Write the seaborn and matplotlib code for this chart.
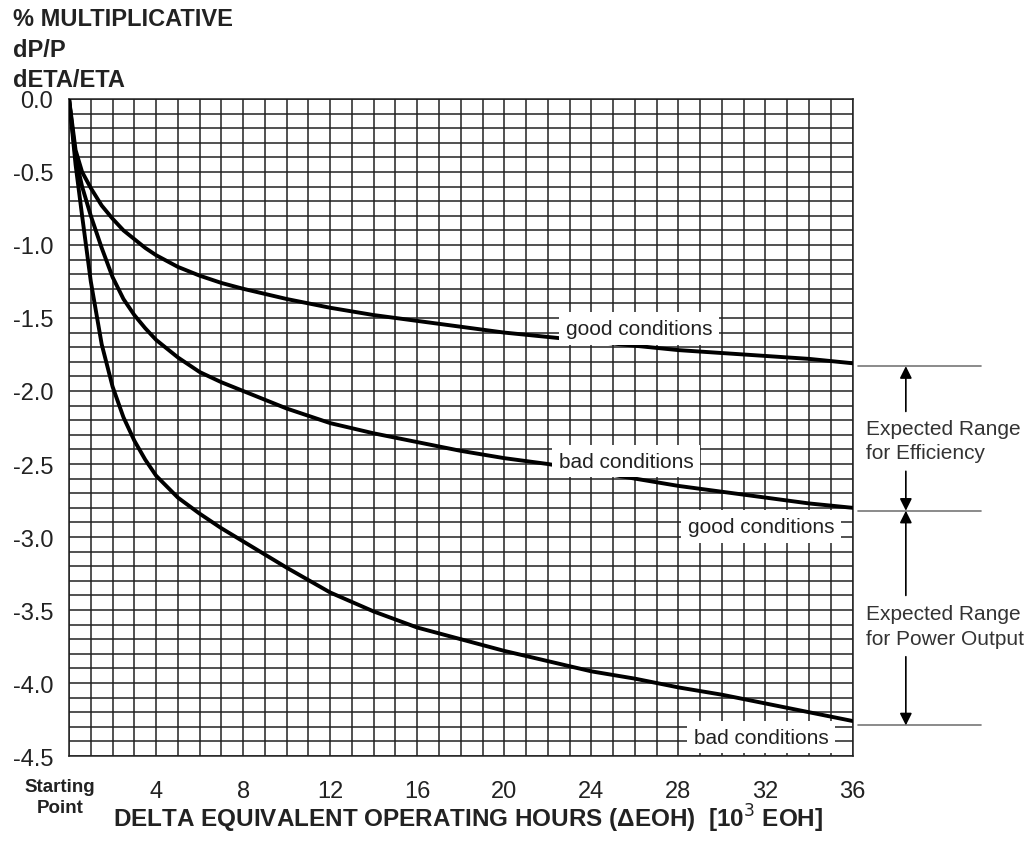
import matplotlib.pyplot as plt
import matplotlib.ticker as mticker
import matplotlib.transforms as mtransforms
import seaborn as sns
import pandas as pd

# curve readings (x in 10^3 EOH, y in %)
hours = [0, 0.3, 0.6, 1.0, 1.5, 2, 2.5, 3, 3.5, 4, 5, 6, 7, 8, 10, 12, 14, 16, 18, 20,
         22, 24, 26, 28, 30, 32, 34, 36]
top_curve = [0.0, -0.35, -0.50, -0.61, -0.73, -0.82, -0.90, -0.96, -1.02, -1.07, -1.15, -1.21,
             -1.26, -1.30, -1.37, -1.43, -1.48, -1.52, -1.56, -1.60, -1.63, -1.66, -1.69, -1.72,
             -1.74, -1.76, -1.78, -1.81]
mid_curve = [0.0, -0.40, -0.60, -0.80, -1.02, -1.22, -1.37, -1.48, -1.57, -1.65, -1.77, -1.87,
             -1.94, -2.00, -2.12, -2.22, -2.29, -2.35, -2.41, -2.46, -2.50, -2.55, -2.60, -2.65,
             -2.69, -2.73, -2.77, -2.80]
low_curve = [0.0, -0.45, -0.80, -1.25, -1.68, -1.97, -2.18, -2.34, -2.47, -2.58, -2.73, -2.84,
             -2.94, -3.03, -3.21, -3.38, -3.51, -3.62, -3.70, -3.78, -3.85, -3.92, -3.97, -4.03,
             -4.08, -4.14, -4.20, -4.26]

x_ticks = [0, 4, 8, 12, 16, 20, 24, 28, 32, 36]
x_labels = ["Starting\nPoint", "4", "8", "12", "16", "20", "24", "28", "32", "36"]
y_ticks = [0.0, -0.5, -1.0, -1.5, -2.0, -2.5, -3.0, -3.5, -4.0, -4.5]

labels = ["good conditions", "bad conditions", "good conditions", "bad conditions"]
label_x = [26.2, 25.6, 31.8, 31.8]
label_y = [-1.57, -2.48, -2.93, -4.37]

range_levels = [-1.83, -2.82, -4.29]

sns.set_theme(style="white")
plt.rcParams['font.family'] = ['Liberation Sans', 'DejaVu Sans']

df = pd.DataFrame({"x": hours * 3,
                   "y": top_curve + mid_curve + low_curve,
                   "curve": ["top"] * len(hours) + ["mid"] * len(hours) + ["low"] * len(hours)})

fig = plt.figure(figsize=(10.29, 8.45), dpi=100)
ax = fig.add_axes([0.0671, 0.1041, 0.7614, 0.7776])

# grid paper
ax.xaxis.set_major_locator(mticker.FixedLocator(x_ticks))
ax.xaxis.set_minor_locator(mticker.MultipleLocator(1))
ax.yaxis.set_major_locator(mticker.FixedLocator(y_ticks))
ax.yaxis.set_minor_locator(mticker.MultipleLocator(0.1))
ax.grid(which="both", color="#222222", linewidth=1.1)
ax.set_axisbelow(True)

sns.lineplot(data=df, x="x", y="y", units="curve", estimator=None, color="black",
             linewidth=2.8, ax=ax, zorder=3)

ax.set_xlim(0, 36)
ax.set_ylim(-4.5, 0)
ax.set_xticklabels(x_labels)
ax.set_yticklabels([f"{v:.1f}" for v in y_ticks])
for spine in ax.spines.values():
    spine.set_color("#222222")
    spine.set_linewidth(1.1)
ax.tick_params(axis="both", which="major", direction="out", length=8, width=1.1,
               color="#222222", labelsize=17, labelcolor="#222222")
ax.tick_params(axis="both", which="minor", length=0)
ax.tick_params(axis="x", pad=9)
shift = mtransforms.ScaledTranslation(-9 / 100, 2 / 100, fig.dpi_scale_trans)
for lbl in ax.get_xticklabels():
    if "Starting" in lbl.get_text():
        lbl.set_fontsize(13.5)
        lbl.set_fontweight("bold")
        lbl.set_linespacing(1.35)
        lbl.set_transform(lbl.get_transform() + shift)

ax.set_xlabel("")
ax.set_ylabel("")

# curve labels on white boxes
for txt, lx, ly in zip(labels, label_x, label_y):
    ax.text(lx, ly, txt, ha="center", va="center", fontsize=15, color="#222222", zorder=4,
            bbox=dict(facecolor="white", edgecolor="none", pad=5))

# expected range markers
for lvl in range_levels:
    ax.plot([36.25, 41.9], [lvl, lvl], color="#777777", linewidth=1.2, clip_on=False)

arrow_x = 38.45
arrow_kw = dict(arrowstyle="-|>", color="black", lw=1.2, mutation_scale=18, shrinkA=0, shrinkB=0)
for start, end in [(-2.14, range_levels[0]), (-2.55, range_levels[1]),
                   (-3.40, range_levels[1]), (-3.82, range_levels[2])]:
    ax.annotate("", xy=(arrow_x, end), xytext=(arrow_x, start), arrowprops=arrow_kw,
                annotation_clip=False)

ax.text(36.6, -2.34, "Expected Range\nfor Efficiency", ha="left", va="center", fontsize=15,
        color="#333333", linespacing=1.35, clip_on=False)
ax.text(36.6, -3.61, "Expected Range\nfor Power Output", ha="left", va="center", fontsize=15,
        color="#333333", linespacing=1.35, clip_on=False)

# axis titles
fig.text(0.013, 0.99, "% MULTIPLICATIVE\ndP/P\ndETA/ETA", ha="left", va="top", fontsize=17,
         fontweight="bold", color="#222222", linespacing=1.4)
fig.text(0.455, 0.012, "DELTA EQUIVALENT OPERATING HOURS (\u0394EOH)  [10$^3$ EOH]", ha="center",
         va="bottom", fontsize=17.5, fontweight="bold", color="#222222")

fig.savefig("out.png", dpi=100, facecolor="white")
